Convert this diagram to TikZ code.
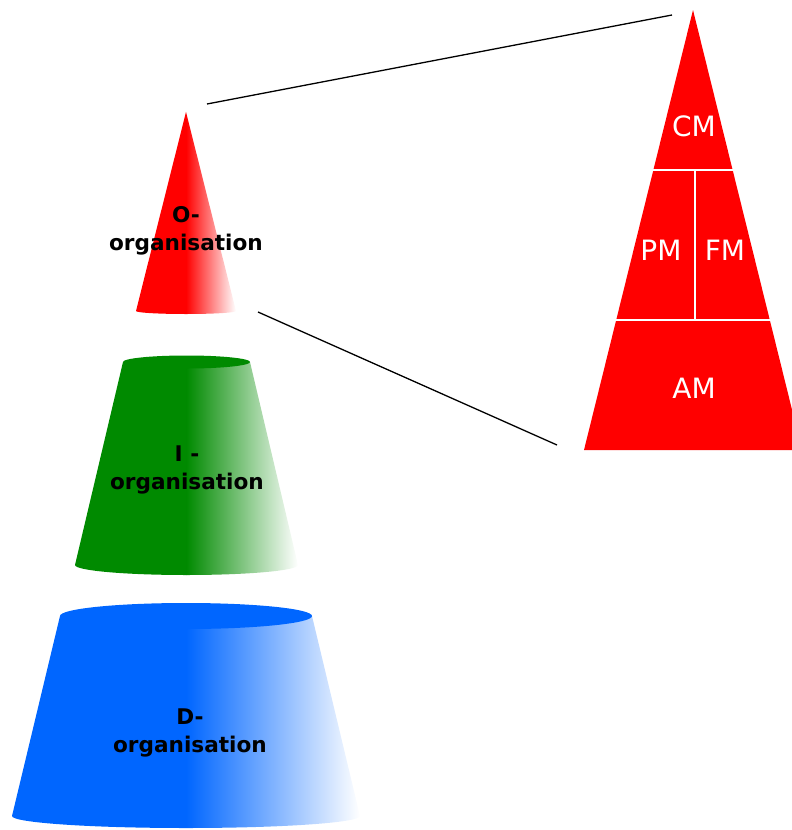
\documentclass[tikz,border=0pt]{standalone}
\usepackage{fontspec}
\setmainfont{DejaVu Sans}
\definecolor{conered}{HTML}{FF0000}
\definecolor{conegreen}{HTML}{008A00}
\definecolor{coneblue}{HTML}{0066FF}
\begin{document}
\begin{tikzpicture}[x=1pt,y=-1pt,
    lvl/.style={font=\bfseries\fontsize{21.6}{28}\selectfont,align=center,text=black},
    part/.style={font=\fontsize{28}{30}\selectfont,text=white},
    sep/.style={white,line width=2pt},
    link/.style={black,line width=1.3pt}]
  \useasboundingbox (0,0) rectangle (792,830);

  \foreach \col/\cx/\yt/\rt/\ryt/\yb/\rb/\ryb in {conered/186/112/0.01/0.01/311/50/3,
      conegreen/186.5/362/63.5/6.5/565/111.5/10, coneblue/186/616/126/13/816/174/12} {
    \begin{scope}
      \clip (\cx-\rt,\yt) -- (\cx-\rb,\yb)
        arc[start angle=180,end angle=0,x radius=\rb,y radius=\ryb] -- (\cx+\rt,\yt) -- cycle;
      \fill[\col] (\cx-\rb-1,\yt-20) rectangle (\cx,\yb+\ryb+1);
      \shade[left color=\col,right color=white] (\cx,\yt-20) rectangle (\cx+\rb,\yb+\ryb+1);
    \end{scope}
    \fill[\col] (\cx,\yt) ellipse[x radius=\rt,y radius=\ryt];
  }

  \node[lvl] (olvl) at (186,231) {O-\\organisation};
  \node[lvl] (ilvl) at (187,470) {I -\\organisation};
  \node[lvl] (dlvl) at (190,733) {D-\\organisation};

  \fill[conered] (693,10) -- (584,450) -- (802,450) -- cycle;
  \draw[sep] (640,170) -- (750,170);
  \draw[sep] (600,320) -- (790,320);
  \draw[sep] (695,170) -- (695,320);

  \node[part] (cm) at (694,126) {CM};
  \node[part] (pm) at (661,250) {PM};
  \node[part] (fm) at (725,250) {FM};
  \node[part] (am) at (694,388) {AM};

  \coordinate (otop) at (207,104);
  \coordinate (obase) at (258,312);
  \coordinate (ttop) at (672,15);
  \coordinate (tbase) at (557,445);
  \draw[link] (otop) -- (ttop);
  \draw[link] (obase) -- (tbase);
\end{tikzpicture}
\end{document}
